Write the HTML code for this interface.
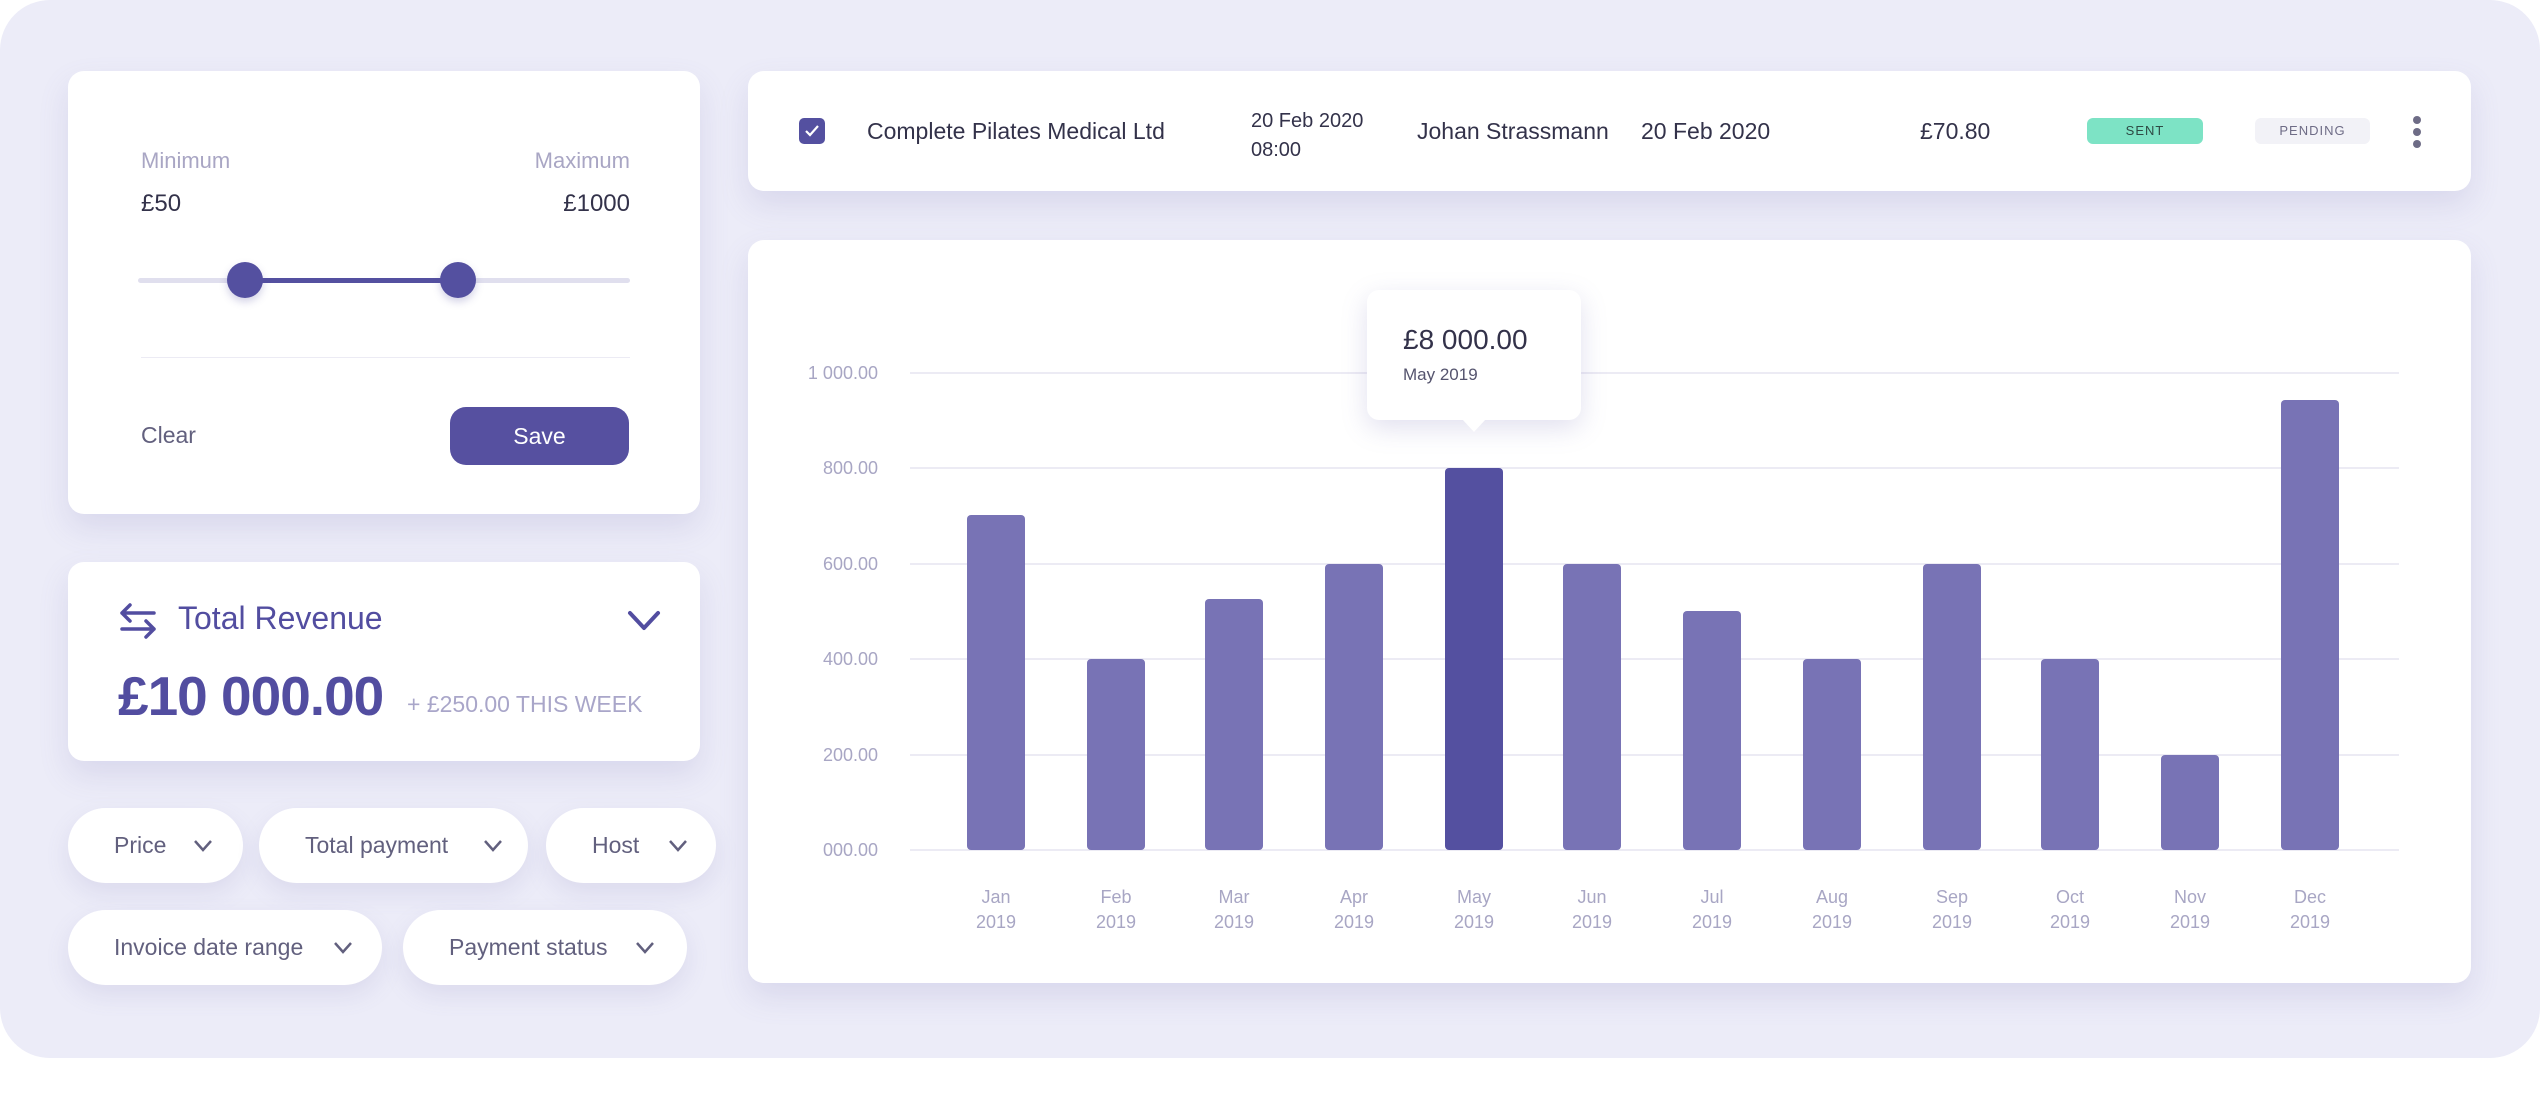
<!DOCTYPE html>
<html><head><meta charset="utf-8"><style>
*{margin:0;padding:0;box-sizing:border-box}
body{width:2540px;height:1117px;background:#fff;font-family:"Liberation Sans",sans-serif;position:relative;overflow:hidden}
.bg{position:absolute;left:0;top:0;width:2540px;height:1058px;background:#ECECF8;border-radius:50px}
.card{position:absolute;background:#fff;border-radius:16px;box-shadow:0 14px 30px rgba(120,115,180,0.16)}
.abs{position:absolute;white-space:nowrap}
.pill{position:absolute;background:#fff;border-radius:38px;box-shadow:0 10px 24px rgba(120,115,180,0.14);height:75px;color:#62607E;font-size:23px;line-height:75px;padding-left:46px}
.pill svg{position:absolute;top:31px}
</style></head><body>
<div class="bg"></div>

<div class="card" style="left:68px;top:71px;width:632px;height:443px"></div>
<div class="abs" style="left:141px;top:148px;font-size:22px;color:#A9A6C4">Minimum</div>
<div class="abs" style="left:524px;top:148px;width:106px;text-align:right;font-size:22px;color:#A9A6C4">Maximum</div>
<div class="abs" style="left:141px;top:190px;font-size:24px;color:#33324A">£50</div>
<div class="abs" style="left:530px;top:190px;width:100px;text-align:right;font-size:24px;color:#33324A">£1000</div>
<div class="abs" style="left:138px;top:278px;width:492px;height:5px;background:#E0DFEE;border-radius:3px"></div>
<div class="abs" style="left:245px;top:278px;width:213px;height:5px;background:#5450A0"></div>
<div class="abs" style="left:227px;top:262px;width:36px;height:36px;border-radius:50%;background:#5450A0;box-shadow:0 4px 8px rgba(84,80,160,0.25)"></div>
<div class="abs" style="left:440px;top:262px;width:36px;height:36px;border-radius:50%;background:#5450A0;box-shadow:0 4px 8px rgba(84,80,160,0.25)"></div>
<div class="abs" style="left:141px;top:357px;width:489px;height:1px;background:#ECEBF4"></div>
<div class="abs" style="left:141px;top:422px;font-size:23px;color:#62607E">Clear</div>
<div class="abs" style="left:450px;top:407px;width:179px;height:58px;background:#5650A0;border-radius:16px;color:#fff;font-size:23px;line-height:58px;text-align:center">Save</div>

<div class="card" style="left:68px;top:562px;width:632px;height:199px"></div>
<svg class="abs" style="left:118px;top:602px" width="40" height="38" viewBox="0 0 40 38"><g fill="none" stroke="#524DA0" stroke-width="3.5" stroke-linecap="round" stroke-linejoin="round"><path d="M4 11H36M12 3L4 11L12 19"/><path d="M4 27H36M28 19L36 27L28 35"/></g></svg>
<div class="abs" style="left:178px;top:600px;font-size:32px;color:#524DA0">Total Revenue</div>
<svg class="abs" style="left:627px;top:610px" width="34" height="22"><path d="M3 3L17 18L31 3" fill="none" stroke="#524DA0" stroke-width="4" stroke-linecap="round" stroke-linejoin="round"/></svg>
<div class="abs" style="left:118px;top:664px;font-size:55px;font-weight:bold;color:#524DA0;letter-spacing:-1px">£10 000.00</div>
<div class="abs" style="left:407px;top:691px;font-size:23px;color:#A9A6C9">+ £250.00 THIS WEEK</div>

<div class="pill" style="left:68px;top:808px;width:175px">Price<svg style="left:125px" width="20" height="14"><path d="M2 2L10 11L18 2" fill="none" stroke="#62607E" stroke-width="2.5"/></svg></div>
<div class="pill" style="left:259px;top:808px;width:269px">Total payment<svg style="left:224px" width="20" height="14"><path d="M2 2L10 11L18 2" fill="none" stroke="#62607E" stroke-width="2.5"/></svg></div>
<div class="pill" style="left:546px;top:808px;width:170px">Host<svg style="left:122px" width="20" height="14"><path d="M2 2L10 11L18 2" fill="none" stroke="#62607E" stroke-width="2.5"/></svg></div>
<div class="pill" style="left:68px;top:910px;width:314px">Invoice date range<svg style="left:265px" width="20" height="14"><path d="M2 2L10 11L18 2" fill="none" stroke="#62607E" stroke-width="2.5"/></svg></div>
<div class="pill" style="left:403px;top:910px;width:284px">Payment status<svg style="left:232px" width="20" height="14"><path d="M2 2L10 11L18 2" fill="none" stroke="#62607E" stroke-width="2.5"/></svg></div>

<div class="card" style="left:748px;top:71px;width:1723px;height:120px"></div>
<div class="abs" style="left:799px;top:118px;width:26px;height:26px;background:#5450A0;border-radius:5px"></div>
<svg class="abs" style="left:799px;top:118px" width="26" height="26"><path d="M7 13L11 17L19 8" fill="none" stroke="#fff" stroke-width="2.2"/></svg>
<div class="abs" style="left:867px;top:118px;font-size:23px;color:#33324A">Complete Pilates Medical Ltd</div>
<div class="abs" style="left:1251px;top:107px;font-size:20px;color:#33324A;line-height:29px">20 Feb 2020<br>08:00</div>
<div class="abs" style="left:1417px;top:118px;font-size:23px;color:#33324A">Johan Strassmann</div>
<div class="abs" style="left:1641px;top:118px;font-size:23px;color:#33324A">20 Feb 2020</div>
<div class="abs" style="left:1920px;top:118px;font-size:23px;color:#33324A">£70.80</div>
<div class="abs" style="left:2087px;top:118px;width:116px;height:26px;background:#7DE3C5;border-radius:6px;font-size:13px;color:#2E4A44;text-align:center;line-height:26px;letter-spacing:1px">SENT</div>
<div class="abs" style="left:2255px;top:118px;width:115px;height:26px;background:#F2F2F7;border-radius:6px;font-size:13px;color:#6E6C86;text-align:center;line-height:26px;letter-spacing:1px">PENDING</div>
<div class="abs" style="left:2413px;top:116px;width:8px;height:8px;border-radius:50%;background:#6E6C86"></div>
<div class="abs" style="left:2413px;top:128px;width:8px;height:8px;border-radius:50%;background:#6E6C86"></div>
<div class="abs" style="left:2413px;top:140px;width:8px;height:8px;border-radius:50%;background:#6E6C86"></div>

<div class="card" style="left:748px;top:240px;width:1723px;height:743px"></div>
<svg class="abs" style="left:0;top:0" width="2540" height="1117">
<g stroke="#ECEBF4" stroke-width="2">
<line x1="910" x2="2399" y1="373" y2="373"/><line x1="910" x2="2399" y1="468" y2="468"/><line x1="910" x2="2399" y1="564" y2="564"/><line x1="910" x2="2399" y1="659" y2="659"/><line x1="910" x2="2399" y1="755" y2="755"/><line x1="910" x2="2399" y1="850" y2="850"/>
</g>
<g font-family="Liberation Sans" font-size="18" fill="#A8A6C4" text-anchor="end">
<text x="878" y="379">1 000.00</text><text x="878" y="474">800.00</text><text x="878" y="570">600.00</text><text x="878" y="665">400.00</text><text x="878" y="761">200.00</text><text x="878" y="856">000.00</text>
</g>
<g fill="#7873B5">
<rect x="967" y="515" width="58" height="335" rx="4"/>
<rect x="1087" y="659" width="58" height="191" rx="4"/>
<rect x="1205" y="599" width="58" height="251" rx="4"/>
<rect x="1325" y="564" width="58" height="286" rx="4"/>
<rect x="1445" y="468" width="58" height="382" rx="4" fill="#5450A0"/>
<rect x="1563" y="564" width="58" height="286" rx="4"/>
<rect x="1683" y="611" width="58" height="239" rx="4"/>
<rect x="1803" y="659" width="58" height="191" rx="4"/>
<rect x="1923" y="564" width="58" height="286" rx="4"/>
<rect x="2041" y="659" width="58" height="191" rx="4"/>
<rect x="2161" y="755" width="58" height="95" rx="4"/>
<rect x="2281" y="400" width="58" height="450" rx="4"/>
</g>
<g font-family="Liberation Sans" font-size="18" fill="#A8A6C4" text-anchor="middle">
<text x="996" y="903">Jan</text><text x="996" y="928">2019</text>
<text x="1116" y="903">Feb</text><text x="1116" y="928">2019</text>
<text x="1234" y="903">Mar</text><text x="1234" y="928">2019</text>
<text x="1354" y="903">Apr</text><text x="1354" y="928">2019</text>
<text x="1474" y="903">May</text><text x="1474" y="928">2019</text>
<text x="1592" y="903">Jun</text><text x="1592" y="928">2019</text>
<text x="1712" y="903">Jul</text><text x="1712" y="928">2019</text>
<text x="1832" y="903">Aug</text><text x="1832" y="928">2019</text>
<text x="1952" y="903">Sep</text><text x="1952" y="928">2019</text>
<text x="2070" y="903">Oct</text><text x="2070" y="928">2019</text>
<text x="2190" y="903">Nov</text><text x="2190" y="928">2019</text>
<text x="2310" y="903">Dec</text><text x="2310" y="928">2019</text>
</g>
</svg>
<div class="abs" style="left:1367px;top:290px;width:214px;height:130px;background:#fff;border-radius:12px;box-shadow:0 8px 26px rgba(120,115,180,0.22)"></div>
<svg class="abs" style="left:1462px;top:419px" width="24" height="14"><path d="M0 0L12 13L24 0Z" fill="#fff"/></svg>
<div class="abs" style="left:1403px;top:324px;font-size:28px;color:#33324A">£8 000.00</div>
<div class="abs" style="left:1403px;top:365px;font-size:17px;color:#55546E">May 2019</div>
</body></html>
